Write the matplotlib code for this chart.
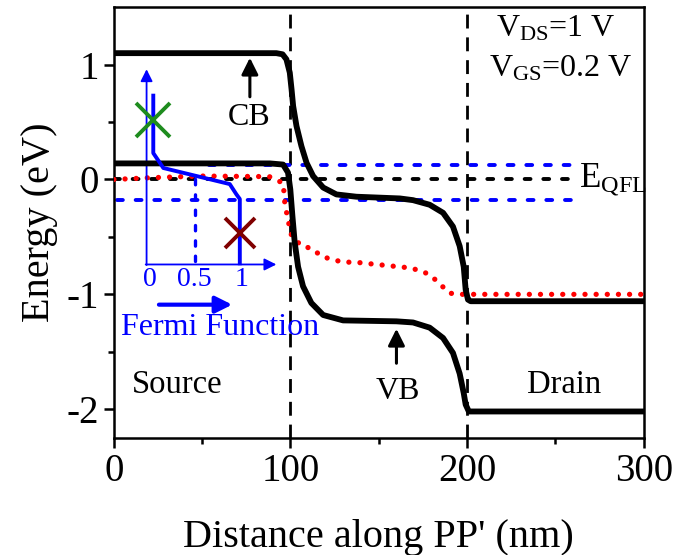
import numpy as np
import matplotlib
matplotlib.use('Agg')
from matplotlib import pyplot as plt

plt.rcParams['font.family'] = ['Liberation Serif', 'DejaVu Serif']
plt.rcParams['mathtext.fontset'] = 'custom'
plt.rcParams['mathtext.rm'] = 'Liberation Serif'
plt.rcParams['mathtext.it'] = 'Liberation Serif:italic'
plt.rcParams['axes.unicode_minus'] = False

# band edges (nm, eV)
cb_x = [0, 92, 95.5, 97.7, 99.6, 100.6, 101.5, 103.4, 106.2, 109.1, 112.8, 118.5, 126, 137.3,
        161.9, 169.4, 178.8, 186.4, 192, 195.8, 198.1, 199.2, 200.5, 202, 300]
cb_y = [1.10, 1.10, 1.09, 1.046, 0.93, 0.785, 0.64, 0.465, 0.29, 0.145, 0.03, -0.07, -0.13, -0.15,
        -0.165, -0.18, -0.22, -0.29, -0.41, -0.58, -0.76, -0.96, -1.046, -1.06, -1.06]

vb_x = [0, 88.3, 95.8, 98.6, 99.9, 101.1, 102.4, 104.3, 107.1, 111.8, 118.5, 129.8, 160,
        169.4, 178.8, 186.4, 192, 195.8, 198.1, 199.2, 201, 300]
vb_y = [0.14, 0.14, 0.13, 0.06, -0.087, -0.32, -0.55, -0.76, -0.93, -1.075, -1.18, -1.227, -1.235,
        -1.245, -1.29, -1.38, -1.51, -1.69, -1.86, -1.96, -2.02, -2.02]

# electron quasi-Fermi level (red dotted)
qf_x = [0, 20, 50, 88, 93, 95.9, 96.8, 98.7, 100.6, 106.3, 112, 117.7, 124.4, 130, 136.8, 142.5,
        149, 155, 161.6, 167.7, 174.9, 179.7, 185.3, 190, 196.8, 300]
qf_y = [0.0, 0.015, 0.03, 0.025, -0.01, -0.035, -0.21, -0.36, -0.49, -0.58, -0.60, -0.67, -0.70,
        -0.72, -0.72, -0.73, -0.74, -0.75, -0.76, -0.77, -0.80, -0.84, -0.92, -0.99, -1.0, -1.0]

# Fermi function inset, drawn in data coordinates
ff_x = [22.3, 22.3, 28, 65.6, 69.4, 71.3, 71.3]
ff_y = [0.73, 0.23, 0.10, -0.04, -0.13, -0.17, -0.73]
ff_ticks = ['0', '0.5', '1']
ff_tick_x = [20.4, 45.8, 72.3]

fig = plt.figure(figsize=(6.74, 5.55), dpi=100)
ax = fig.add_axes([0.169, 0.211, 0.786, 0.776])

# vertical junction lines
for xv in (100, 200):
    ax.axvline(xv, color='k', lw=2.0, ls=(0, (5, 3.2)), zorder=1)

# E_QFL and blue reference levels
dash = (0, (1.5, 3.3))
ax.plot([0, 260], [0, 0], color='k', lw=2.8, ls=dash, dash_capstyle='round', zorder=2)
ax.plot([54, 260], [0.125, 0.125], color='#0000ff', lw=2.8, ls=dash, dash_capstyle='round', zorder=2)
ax.plot([2, 260], [-0.18, -0.18], color='#0000ff', lw=2.8, ls=dash, dash_capstyle='round', zorder=2)

ax.plot(qf_x, qf_y, color='#ff0000', lw=3.8, ls=(0, (0.01, 2.1)), dash_capstyle='round', zorder=3)
ax.plot(cb_x, cb_y, color='k', lw=4.2, solid_joinstyle='round', zorder=4)
ax.plot(vb_x, vb_y, color='k', lw=4.2, solid_joinstyle='round', zorder=4)

# inset Fermi function
blue = '#0000ff'
ax.annotate('', xy=(18.5, 0.96), xytext=(18.5, -0.745),
            arrowprops=dict(arrowstyle='-|>', color=blue, lw=1.3, mutation_scale=18, shrinkA=0, shrinkB=0))
ax.annotate('', xy=(92, -0.74), xytext=(18.0, -0.74),
            arrowprops=dict(arrowstyle='-|>', color=blue, lw=1.3, mutation_scale=18, shrinkA=0, shrinkB=0))
ax.plot([46, 46], [0.0, -0.74], color=blue, lw=2.4, ls=(0, (1.6, 3.0)), dash_capstyle='round', zorder=5)
ax.plot(ff_x, ff_y, color=blue, lw=2.8, zorder=5)
for lab, xl in zip(ff_ticks, ff_tick_x):
    ax.text(xl, -0.87, lab, color=blue, fontsize=20, ha='center', va='center')
ax.annotate('', xy=(67, -1.09), xytext=(25.5, -1.09),
            arrowprops=dict(arrowstyle='-|>', color=blue, lw=3.0, mutation_scale=25, shrinkA=0, shrinkB=0))
ax.text(60, -1.29, 'Fermi Function', color=blue, fontsize=23, ha='center', va='center')
ax.plot(22.3, 0.52, marker='x', ms=24, mew=2.8, color='#1e8c1e', zorder=6)
ax.plot(71.3, -0.465, marker='x', ms=22, mew=2.8, color='#800000', zorder=6)

# band labels with arrows
ax.annotate('', xy=(77, 1.06), xytext=(77, 0.72),
            arrowprops=dict(arrowstyle='-|>', color='k', lw=2.2, mutation_scale=25, shrinkA=0, shrinkB=0))
ax.text(76.4, 0.54, 'CB', fontsize=23, ha='center', va='center')
ax.annotate('', xy=(160, -1.30), xytext=(160, -1.60),
            arrowprops=dict(arrowstyle='-|>', color='k', lw=2.2, mutation_scale=25, shrinkA=0, shrinkB=0))
ax.text(160.7, -1.85, 'VB', fontsize=23, ha='center', va='center')
ax.text(35.6, -1.79, 'Source', fontsize=23.5, ha='center', va='center')
ax.text(254.7, -1.79, 'Drain', fontsize=23.5, ha='center', va='center')
ax.text(263.5, 0.0, r'E$_{\rm QFL}$', fontsize=25, ha='left', va='center')
ax.text(250, 1.31, r'V$_{\rm DS}$=1 V', fontsize=23, ha='center', va='center')
ax.text(253, 0.96, r'V$_{\rm GS}$=0.2 V', fontsize=23, ha='center', va='center')

ax.set_xlim(0, 300)
ax.set_ylim(-2.25, 1.5)
ax.set_xticks([0, 100, 200, 300])
ax.set_xticks([50, 150, 250], minor=True)
ax.set_yticks([-2, -1, 0, 1])
ax.set_yticks([-1.5, -0.5, 0.5], minor=True)
ax.tick_params(which='major', direction='out', length=7, width=1.8, labelsize=28, pad=4)
ax.tick_params(which='minor', direction='out', length=4, width=1.8)
for sp in ax.spines.values():
    sp.set_linewidth(1.8)
ax.set_xlabel("Distance along PP' (nm)", fontsize=29, labelpad=21)
ax.set_ylabel('Energy (eV)', fontsize=29, labelpad=6)

plt.savefig('out.png', dpi=100)
plt.close()
